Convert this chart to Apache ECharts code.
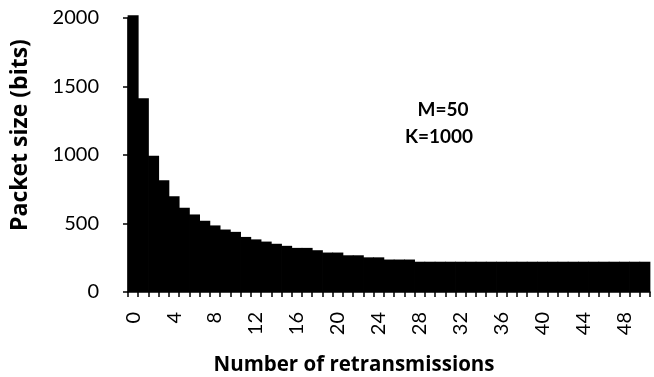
<!DOCTYPE html>
<html>
<head>
<meta charset="utf-8">
<script src="https://cdn.jsdelivr.net/npm/echarts@6/dist/echarts.min.js"></script>
<style>
  html, body { margin: 0; padding: 0; background: #fff; }
  #chart { width: 654px; height: 377px; }
</style>
</head>
<body>
<div id="chart"></div>
<script>
// retransmission index 0..50
var retrans = [];
for (var i = 0; i <= 50; i++) retrans.push(String(i));

// packet size in bits
var packetSize = [
  2020, 1415, 995, 815, 698, 615, 566, 520, 486, 456,
  439, 402, 384, 368, 352, 337, 322, 322, 305, 288,
  288, 268, 268, 253, 253, 237, 237, 237, 221, 221,
  221, 221, 221, 221, 221, 221, 221, 221, 221, 221,
  221, 221, 221, 221, 221, 221, 221, 221, 221, 221,
  221
];

var yTicks = [0, 500, 1000, 1500, 2000];
var notes = ["M=50", "K=1000"];

var fontName = "Lato";
var titleFont = "'Open Sans'";

var chart = echarts.init(document.getElementById("chart"));
var option = {
  animation: false,
  backgroundColor: "#fff",
  grid: { left: 128, right: 4, top: 18, bottom: 85 },
  xAxis: {
    type: "category",
    data: retrans,
    axisLine: { lineStyle: { color: "#000", width: 1.5 } },
    axisTick: { show: true, interval: 0, length: 5, lineStyle: { color: "#000", width: 1.5 } },
    axisLabel: {
      interval: 3,
      rotate: 90,
      margin: 20,
      color: "#000",
      fontFamily: fontName,
      fontSize: 20
    },
    splitLine: { show: false }
  },
  yAxis: {
    type: "value",
    min: yTicks[0],
    max: yTicks[yTicks.length - 1],
    interval: 500,
    axisLine: { show: true, lineStyle: { color: "#000", width: 1.5 } },
    axisTick: { show: true, length: 5, lineStyle: { color: "#000", width: 1.5 } },
    axisLabel: {
      margin: 29,
      color: "#000",
      fontFamily: fontName,
      fontSize: 20,
      formatter: function (v) { return String(v); }
    },
    splitLine: { show: false }
  },
  series: [
    {
      type: "bar",
      data: packetSize,
      barWidth: 11,
      clip: false,
      itemStyle: { color: "#000" }
    }
  ],
  graphic: [
    {
      type: "text",
      x: 20, y: 135,
      rotation: Math.PI / 2,
      style: {
        text: "Packet size (bits)",
        font: "bold 23px " + titleFont,
        fill: "#000",
        textAlign: "center",
        textVerticalAlign: "middle"
      }
    },
    {
      type: "text",
      x: 354, y: 365,
      style: {
        text: "Number of retransmissions",
        font: "bold 20.5px " + titleFont,
        fill: "#000",
        textAlign: "center",
        textVerticalAlign: "middle"
      }
    },
    {
      type: "text",
      x: 443, y: 110,
      style: {
        text: notes[0],
        font: "bold 19px " + fontName,
        fill: "#000",
        textAlign: "center",
        textVerticalAlign: "middle"
      }
    },
    {
      type: "text",
      x: 439, y: 137,
      style: {
        text: notes[1],
        font: "bold 19px " + fontName,
        fill: "#000",
        textAlign: "center",
        textVerticalAlign: "middle"
      }
    }
  ]
};
chart.setOption(option);
</script>
</body>
</html>
